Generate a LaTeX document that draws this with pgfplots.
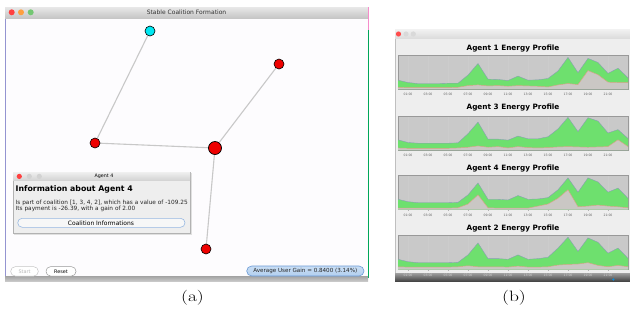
\documentclass[border=0pt]{standalone}
\usepackage{pgfplots}
\pgfplotsset{compat=1.18}
\usepackage{pgfplotstable}
\usepackage{fontspec}
\newfontfamily\ui{DejaVu Sans}
\definecolor{nodered}{HTML}{EE0000}
\definecolor{nodecyan}{HTML}{00E8F2}
\definecolor{edgegray}{HTML}{C8C8C8}
\definecolor{plotbg}{HTML}{C9C9C9}
\definecolor{botfill}{HTML}{CAC7C4}
\definecolor{egreen}{HTML}{6EE06E}
\definecolor{topline}{HTML}{8A9AB8}
\definecolor{botline}{HTML}{D8A483}
\definecolor{winbg}{HTML}{FDFCFE}
\definecolor{panelbg}{HTML}{EEEEEE}
\definecolor{btnblue}{HTML}{B2CFEF}
\definecolor{btnblueedge}{HTML}{6A9AD6}

\pgfplotstableread{
h top bot
0 0.26 0.05
1 0.19 0.04
2 0.16 0.04
3 0.16 0.04
4 0.16 0.04
5 0.17 0.04
6 0.17 0.05
7 0.41 0.10
8 0.75 0.12
9 0.29 0.09
10 0.28 0.10
11 0.25 0.08
12 0.38 0.10
13 0.26 0.09
14 0.27 0.08
15 0.31 0.06
16 0.53 0.12
17 0.93 0.16
18 0.48 0.13
19 0.90 0.54
20 0.78 0.42
21 0.46 0.20
22 0.61 0.19
23 0.33 0.19
}\agentA
\pgfplotstableread{
h top bot
0 0.30 0.06
1 0.22 0.05
2 0.20 0.05
3 0.20 0.05
4 0.20 0.05
5 0.20 0.05
6 0.21 0.06
7 0.48 0.08
8 0.82 0.12
9 0.32 0.08
10 0.32 0.10
11 0.29 0.06
12 0.41 0.10
13 0.33 0.07
14 0.33 0.06
15 0.39 0.07
16 0.62 0.09
17 0.96 0.10
18 0.54 0.09
19 0.95 0.08
20 0.85 0.09
21 0.50 0.10
22 0.60 0.30
23 0.34 0.10
}\agentC
\pgfplotstableread{
h top bot
0 0.30 0.04
1 0.23 0.04
2 0.20 0.04
3 0.20 0.04
4 0.20 0.04
5 0.20 0.04
6 0.21 0.05
7 0.43 0.16
8 0.78 0.43
9 0.30 0.05
10 0.30 0.04
11 0.28 0.04
12 0.41 0.04
13 0.30 0.04
14 0.31 0.10
15 0.35 0.16
16 0.58 0.33
17 0.93 0.58
18 0.51 0.08
19 0.93 0.10
20 0.81 0.13
21 0.51 0.10
22 0.63 0.08
23 0.33 0.05
}\agentD
\pgfplotstableread{
h top bot
0 0.30 0.08
1 0.23 0.07
2 0.20 0.07
3 0.20 0.07
4 0.20 0.07
5 0.20 0.07
6 0.21 0.08
7 0.43 0.11
8 0.78 0.08
9 0.32 0.08
10 0.32 0.08
11 0.30 0.07
12 0.43 0.10
13 0.30 0.07
14 0.32 0.07
15 0.36 0.08
16 0.63 0.13
17 0.95 0.15
18 0.53 0.16
19 0.93 0.20
20 0.80 0.12
21 0.48 0.08
22 0.63 0.12
23 0.33 0.08
}\agentB

\pgfplotsset{
  eprof/.style={
    scale only axis, width=230pt, height=34pt,
    anchor=south west,
    xmin=0, xmax=23, ymin=0, ymax=1,
    axis background/.style={fill=plotbg},
    axis line style={draw=gray!80, line width=0.4pt},
    ytick=\empty,
    xtick={1,3,5,7,9,11,13,15,17,19,21},
    xticklabels={01:00,03:00,05:00,07:00,09:00,11:00,13:00,15:00,17:00,19:00,21:00},
    xtick pos=bottom, tick align=outside, major tick length=1pt,
    tick style={draw=gray!60, line width=0.3pt},
    xticklabel style={font=\fontsize{3.1}{3.7}\selectfont\ui, text=gray!75!black, yshift=0.3pt},
    xmajorgrids, grid style={draw=plotbg!94!white, line width=0.2pt},
  }
}

\begin{document}
\begin{tikzpicture}
\useasboundingbox (0pt,0pt) rectangle (630pt,-316pt);
\begin{scope}[x=1pt,y=-1pt]
\fill[white] (0,0) rectangle (630,316);
% ---------- left window ----------
\fill[winbg] (5,18) rectangle (368,278);
\draw[gray!60!blue!60, line width=0.5pt] (5.2,18) -- (5.2,278);
\shade[top color=gray!18, bottom color=gray!45] (5,7) rectangle (368,18);
\draw[magenta!45, line width=0.9pt] (368,7) -- (368,30);
\draw[teal!70!green, line width=0.9pt] (368,30) -- (368,278);
\node[font=\fontsize{6}{7}\selectfont\ui, text=black!80] at (186.5,12.3) {Stable Coalition Formation};
\fill[red!75!white] (11.7,12.3) circle (3pt);
\fill[orange!75!white] (21,12.3) circle (3pt);
\fill[green!60!black!55!white] (30.7,12.3) circle (3pt);
\shade[top color=gray!70, bottom color=gray!40] (5,276.5) rectangle (368,281.5);
\end{scope}

% graph (nodes and edges)
\begin{axis}[at={(0pt,-316pt)}, anchor=south west, scale only axis, width=630pt, height=316pt,
  xmin=0, xmax=630, ymin=0, ymax=316, y dir=reverse, hide axis, clip=false]
\addplot[no marks, draw=edgegray, line width=1.1pt] coordinates {(150,31) (95,143) (215,148) (206,249)};
\addplot[no marks, draw=edgegray, line width=1.1pt] coordinates {(279,64) (215,148)};
\addplot[only marks, mark=*, mark size=5pt, mark options={fill=nodecyan, draw=black, line width=0.6pt}] coordinates {(150,31)};
\addplot[only marks, mark=*, mark size=5pt, mark options={fill=nodered, draw=black, line width=0.6pt}] coordinates {(279,64) (95,143) (206,249)};
\addplot[only marks, mark=*, mark size=6.5pt, mark options={fill=nodered, draw=black, line width=0.7pt}] coordinates {(215,148)};
\node[font=\fontsize{3.5}{4}\selectfont\ui] at (axis cs:150,31) {0};
\node[font=\fontsize{3.5}{4}\selectfont\ui] at (axis cs:279,64) {2};
\node[font=\fontsize{3.5}{4}\selectfont\ui] at (axis cs:95,143) {3};
\node[font=\fontsize{3.8}{4}\selectfont\ui] at (axis cs:215,148) {4};
\node[font=\fontsize{3.5}{4}\selectfont\ui] at (axis cs:206,249) {1};
\end{axis}

\begin{scope}[x=1pt,y=-1pt]
% dialog
\fill[black!12] (14,173) rectangle (191.5,234.5);
\fill[panelbg] (13,172) rectangle (190,233);
\draw[gray!60, line width=0.4pt] (13,172) rectangle (190,233);
\shade[top color=gray!12, bottom color=gray!35] (13,172) rectangle (190,180.5);
\node[font=\fontsize{4.8}{6}\selectfont\ui] at (104,176.4) {Agent 4};
\fill[red!75!white] (19.3,176.4) circle (2.6pt);
\fill[gray!35] (29.3,176.4) circle (2.6pt);
\fill[gray!35] (39.3,176.4) circle (2.6pt);
\node[anchor=west, inner sep=0pt, font=\fontsize{7.8}{9}\selectfont\ui\bfseries] at (15.5,189.6) {Information about Agent 4};
\node[anchor=west, inner sep=0pt, font=\fontsize{5.8}{6.5}\selectfont\ui, text=black!85] at (15.5,202.7) {Is part of coalition [1, 3, 4, 2], which has a value of -109.25};
\node[anchor=west, inner sep=0pt, font=\fontsize{5.8}{6.5}\selectfont\ui, text=black!85] at (15.5,209.2) {Its payment is -26.39, with a gain of 2.00};
\draw[btnblueedge!70, fill=white!94!gray, line width=0.6pt, rounded corners=4.5pt] (17.7,218.3) rectangle (185,227.3);
\node[font=\fontsize{6}{7}\selectfont\ui] at (101,222.8) {Coalition Informations};
% bottom buttons
\draw[gray!45, fill=white, line width=0.5pt, rounded corners=4.5pt] (10.7,266.7) rectangle (38.3,276);
\node[font=\fontsize{4.9}{6}\selectfont\ui, text=gray!55] at (24.5,271.3) {Start};
\draw[gray!80, fill=white, line width=0.5pt, rounded corners=4.5pt] (46,266.7) rectangle (76,276);
\node[font=\fontsize{4.9}{6}\selectfont\ui] at (61,271.3) {Reset};
\shade[top color=btnblue!70!white, bottom color=btnblue, rounded corners=5pt] (246.7,266) rectangle (364,276);
\draw[btnblueedge, line width=0.6pt, rounded corners=5pt] (246.7,266) rectangle (364,276);
\node[font=\fontsize{5.6}{6.5}\selectfont\ui, text=black!85] at (305.3,271.1) {Average User Gain = 0.8400 (3.14\%)};
% ---------- right window ----------
\fill[panelbg] (395,29) rectangle (630,278);
\draw[gray!50, line width=0.4pt] (395,29) -- (395,278);
\shade[top color=gray!10, bottom color=gray!28] (395,29) rectangle (630,38.5);
\fill[red!70!white] (398.5,34) circle (2.6pt);
\fill[gray!30] (406,34) circle (2.6pt);
\fill[gray!30] (413.3,34) circle (2.6pt);
\node[font=\fontsize{7.3}{8.5}\selectfont\ui\bfseries] at (513,48.3) {Agent 1 Energy Profile};
\node[font=\fontsize{7.3}{8.5}\selectfont\ui\bfseries] at (513,108) {Agent 3 Energy Profile};
\node[font=\fontsize{7.3}{8.5}\selectfont\ui\bfseries] at (513,168.3) {Agent 4 Energy Profile};
\node[font=\fontsize{7.3}{8.5}\selectfont\ui\bfseries] at (513,228.3) {Agent 2 Energy Profile};
\shade[top color=gray!75, bottom color=gray!55!black] (395,273) rectangle (630,281);
\end{scope}

\begin{axis}[eprof, at={(398pt,-89pt)}]
\addplot[fill=egreen, draw=none] table[x=h,y=top] {\agentA} \closedcycle;
\addplot[fill=botfill, draw=none] table[x=h,y=bot] {\agentA} \closedcycle;
\addplot[draw=topline, line width=0.35pt] table[x=h,y=top] {\agentA};
\addplot[draw=botline, line width=0.45pt] table[x=h,y=bot] {\agentA};
\end{axis}
\begin{axis}[eprof, at={(398pt,-150pt)}]
\addplot[fill=egreen, draw=none] table[x=h,y=top] {\agentC} \closedcycle;
\addplot[fill=botfill, draw=none] table[x=h,y=bot] {\agentC} \closedcycle;
\addplot[draw=topline, line width=0.35pt] table[x=h,y=top] {\agentC};
\addplot[draw=botline, line width=0.45pt] table[x=h,y=bot] {\agentC};
\end{axis}
\begin{axis}[eprof, at={(398pt,-209.5pt)}]
\addplot[fill=egreen, draw=none] table[x=h,y=top] {\agentD} \closedcycle;
\addplot[fill=botfill, draw=none] table[x=h,y=bot] {\agentD} \closedcycle;
\addplot[draw=topline, line width=0.35pt] table[x=h,y=top] {\agentD};
\addplot[draw=botline, line width=0.45pt] table[x=h,y=bot] {\agentD};
\end{axis}
\begin{axis}[eprof, at={(398pt,-269.5pt)}, xticklabel style={text=gray!35}]
\addplot[fill=egreen, draw=none] table[x=h,y=top] {\agentB} \closedcycle;
\addplot[fill=botfill, draw=none] table[x=h,y=bot] {\agentB} \closedcycle;
\addplot[draw=topline, line width=0.35pt] table[x=h,y=top] {\agentB};
\addplot[draw=botline, line width=0.45pt] table[x=h,y=bot] {\agentB};
\end{axis}

\begin{scope}[x=1pt,y=-1pt]
\fill[cyan!70!blue] (613.3,279.5) circle (1.3pt);
\node[font=\fontsize{15}{18}\selectfont, xscale=1.3] at (192.5,298) {(a)};
\node[font=\fontsize{15}{18}\selectfont, xscale=1.3] at (514,298) {(b)};
\end{scope}
\end{tikzpicture}
\end{document}
